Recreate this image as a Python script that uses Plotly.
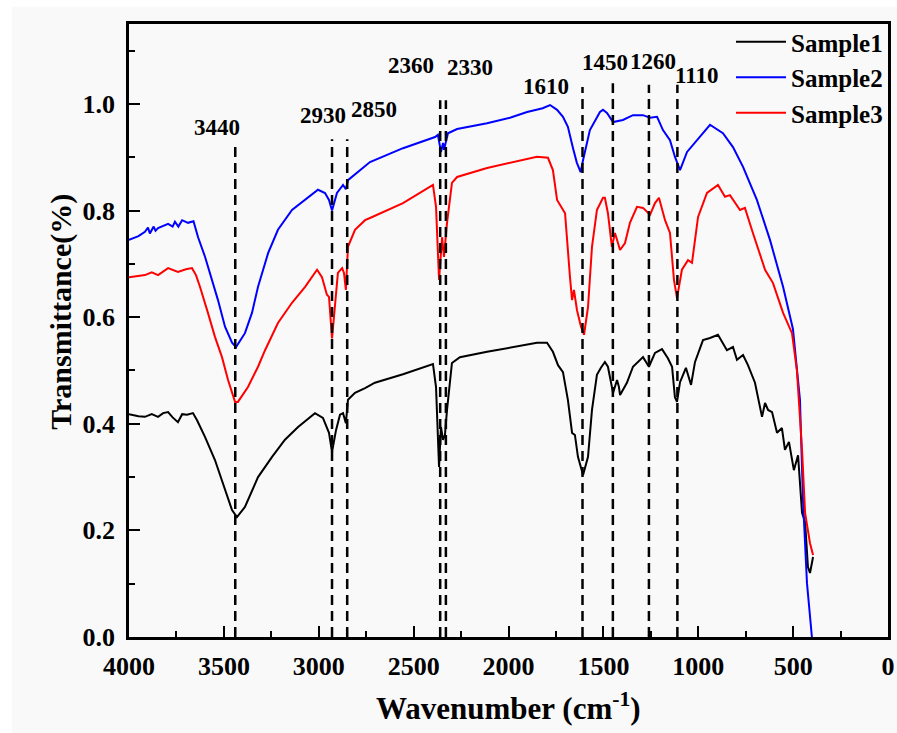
import plotly.graph_objects as go

# ---------------- data ----------------
wn_s1 = [4000, 3950, 3916, 3880, 3847, 3820, 3794, 3770, 3742, 3720, 3694, 3663, 3642, 3599, 3547,
         3494, 3457, 3431, 3389, 3320, 3246, 3178, 3109, 3020, 2978, 2946, 2930, 2909, 2888, 2872,
         2857, 2846, 2809, 2756, 2704, 2556, 2398, 2382, 2372, 2366, 2356, 2345, 2335, 2324, 2298,
         2256, 2113, 1976, 1900, 1850, 1797, 1766, 1739, 1713, 1687, 1665, 1650, 1634, 1607, 1581,
         1560, 1534, 1513, 1492, 1476, 1460, 1449, 1428, 1418, 1412, 1376, 1344, 1291, 1260, 1228,
         1191, 1160, 1138, 1123, 1112, 1096, 1065, 1038, 1017, 975, 938, 896, 849, 817, 796,
         764, 738, 701, 664, 648, 632, 611, 585, 559, 543, 522, 496, 474, 453, 437,
         422, 411, 395]
val_s1 = [0.418, 0.414, 0.413, 0.418, 0.413, 0.420, 0.422, 0.412, 0.403, 0.418, 0.417, 0.420, 0.407, 0.375, 0.332,
          0.276, 0.238, 0.225, 0.244, 0.300, 0.338, 0.370, 0.394, 0.420, 0.411, 0.383, 0.347, 0.388, 0.417, 0.420,
          0.401, 0.445, 0.458, 0.467, 0.477, 0.493, 0.512, 0.469, 0.383, 0.319, 0.394, 0.370, 0.379, 0.426, 0.514,
          0.525, 0.535, 0.544, 0.549, 0.552, 0.552, 0.535, 0.510, 0.497, 0.445, 0.383, 0.379, 0.338, 0.304, 0.338,
          0.426, 0.492, 0.505, 0.516, 0.507, 0.478, 0.458, 0.482, 0.469, 0.454, 0.477, 0.507, 0.525, 0.507, 0.533,
          0.540, 0.523, 0.507, 0.450, 0.441, 0.478, 0.505, 0.473, 0.516, 0.557, 0.561, 0.567, 0.538, 0.544, 0.520,
          0.529, 0.510, 0.477, 0.413, 0.439, 0.426, 0.422, 0.383, 0.392, 0.351, 0.366, 0.313, 0.341, 0.233, 0.216,
          0.131, 0.120, 0.150]

wn_s2 = [4000, 3950, 3916, 3900, 3890, 3870, 3860, 3847, 3794, 3770, 3758, 3740, 3720, 3689, 3660,
         3647, 3636, 3599, 3563, 3531, 3494, 3457, 3436, 3389, 3352, 3320, 3267, 3215, 3141, 3072,
         3004, 2967, 2946, 2930, 2904, 2872, 2857, 2846, 2730, 2556, 2387, 2372, 2356, 2345, 2340,
         2319, 2271, 2113, 1992, 1902, 1820, 1781, 1744, 1713, 1687, 1660, 1640, 1620, 1607, 1571,
         1534, 1518, 1502, 1481, 1449, 1397, 1344, 1291, 1254, 1217, 1186, 1149, 1123, 1096, 1059,
         1007, 938, 870, 817, 764, 691, 622, 553, 501, 464, 448, 427, 401]
val_s2 = [0.745, 0.752, 0.760, 0.768, 0.757, 0.770, 0.762, 0.767, 0.775, 0.770, 0.779, 0.770, 0.782, 0.777, 0.780,
          0.764, 0.750, 0.713, 0.670, 0.632, 0.582, 0.552, 0.544, 0.570, 0.608, 0.657, 0.720, 0.764, 0.801, 0.820,
          0.839, 0.833, 0.820, 0.800, 0.833, 0.848, 0.840, 0.857, 0.891, 0.917, 0.938, 0.942, 0.910, 0.927, 0.914,
          0.945, 0.953, 0.964, 0.974, 0.985, 0.992, 0.998, 0.989, 0.976, 0.957, 0.917, 0.890, 0.872, 0.895, 0.951,
          0.976, 0.985, 0.989, 0.983, 0.966, 0.970, 0.979, 0.979, 0.974, 0.976, 0.951, 0.932, 0.901, 0.876, 0.910,
          0.932, 0.961, 0.945, 0.919, 0.882, 0.820, 0.745, 0.657, 0.578, 0.445, 0.257, 0.101, 0.0]

wn_s3 = [4000, 3950, 3916, 3880, 3847, 3794, 3742, 3700, 3668, 3647, 3626, 3584, 3547, 3510, 3478,
         3441, 3426, 3373, 3320, 3283, 3215, 3141, 3072, 3009, 2983, 2957, 2946, 2930, 2914, 2899,
         2877, 2867, 2857, 2846, 2809, 2756, 2730, 2556, 2398, 2382, 2366, 2350, 2340, 2324, 2298,
         2271, 2113, 1976, 1850, 1792, 1766, 1744, 1729, 1702, 1676, 1665, 1655, 1639, 1618, 1602,
         1581, 1560, 1534, 1502, 1492, 1476, 1455, 1439, 1412, 1386, 1360, 1323, 1291, 1254, 1228,
         1207, 1175, 1149, 1128, 1112, 1086, 1054, 1033, 1001, 954, 896, 859, 833, 780, 754,
         712, 675, 648, 606, 553, 506, 480, 453, 437, 411, 395]
val_s3 = [0.675, 0.677, 0.679, 0.684, 0.679, 0.692, 0.685, 0.690, 0.692, 0.679, 0.657, 0.608, 0.563, 0.525, 0.482,
          0.441, 0.441, 0.469, 0.507, 0.538, 0.589, 0.627, 0.657, 0.689, 0.675, 0.642, 0.638, 0.560, 0.632, 0.683,
          0.692, 0.683, 0.651, 0.732, 0.764, 0.782, 0.786, 0.814, 0.848, 0.807, 0.670, 0.750, 0.713, 0.777, 0.852,
          0.863, 0.880, 0.891, 0.901, 0.899, 0.876, 0.820, 0.811, 0.795, 0.675, 0.632, 0.651, 0.613, 0.582, 0.567,
          0.619, 0.732, 0.801, 0.824, 0.824, 0.795, 0.732, 0.758, 0.726, 0.739, 0.777, 0.807, 0.805, 0.792, 0.814,
          0.824, 0.782, 0.758, 0.670, 0.636, 0.689, 0.707, 0.702, 0.788, 0.833, 0.848, 0.826, 0.829, 0.801, 0.805,
          0.758, 0.720, 0.689, 0.664, 0.608, 0.570, 0.500, 0.351, 0.233, 0.176, 0.154]

series_names = ["Sample1", "Sample2", "Sample3"]

# peak markers: wavenumber, label text
peak_wn = [3440, 2930, 2850, 2360, 2330, 1610, 1450, 1260, 1110]
peak_labels = ["3440", "2930", "2850", "2360", "2330", "1610", "1450", "1260", "1110"]

x_ticks = [4000, 3500, 3000, 2500, 2000, 1500, 1000, 500, 0]
y_ticks = [0.0, 0.2, 0.4, 0.6, 0.8, 1.0]

# ---------------- layout constants ----------------
peak_line_top = [0.923, 0.934, 0.934, 1.007, 1.007, 1.032, 1.039, 1.036, 1.036]
label_pos = [(3536, 0.955), (2978, 0.979), (2709, 0.989), (2514, 1.073), (2203, 1.069),
             (1802, 1.032), (1492, 1.077), (1239, 1.079), (1007, 1.053)]
colors = ["#000000", "#0000ff", "#ff0000"]
FONT = "Liberation Serif"

fig = go.Figure()
for wn, val, name, col in zip([wn_s1, wn_s2, wn_s3], [val_s1, val_s2, val_s3], series_names, colors):
    fig.add_trace(go.Scatter(x=wn, y=val, mode="lines", name=name,
                             line=dict(color=col, width=2)))

shapes = [dict(type="rect", xref="paper", yref="paper", x0=-0.154, x1=1.02, y0=-0.17, y1=1.028,
               fillcolor="#f9f9f9", line=dict(width=0), layer="below")]
for w, top in zip(peak_wn, peak_line_top):
    shapes.append(dict(type="line", xref="x", yref="y", x0=w, x1=w, y0=0, y1=top,
                       line=dict(color="black", width=2.5, dash="10px,6px"), layer="above"))

annotations = []
for (lx, ly), txt in zip(label_pos, peak_labels):
    annotations.append(dict(x=lx, y=ly, xref="x", yref="y", text=txt, showarrow=False,
                            font=dict(family=FONT, size=23, color="black", weight="bold")))
annotations.append(dict(x=0.5, y=-0.113, xref="paper", yref="paper", yanchor="middle",
                        text="Wavenumber (cm<sup>-1</sup>)", showarrow=False,
                        font=dict(family=FONT, size=31, color="black", weight="bold")))
annotations.append(dict(x=-0.115, y=0.53, xref="paper", yref="paper", textangle=-90,
                        text="Transmittance(%)", showarrow=False,
                        font=dict(family=FONT, size=30, color="black", weight="bold")))

axis_common = dict(showline=True, linecolor="black", linewidth=2.5, mirror=True,
                   ticks="inside", tickcolor="black", tickwidth=2, ticklen=11,
                   showgrid=False, zeroline=False, automargin=False,
                   tickfont=dict(family=FONT, size=26, color="black", weight="bold"))

fig.update_layout(
    width=897, height=733,
    margin=dict(l=129, r=9, t=24, b=96),
    paper_bgcolor="white", plot_bgcolor="rgba(0,0,0,0)",
    xaxis=dict(range=[4000, 0], tickvals=x_ticks, ticktext=[str(t) for t in x_ticks],
               ticklabelstandoff=4, ticklabeloverflow="allow",
               minor=dict(dtick=250, ticks="inside", ticklen=6, tickwidth=2, tickcolor="black", showgrid=False),
               **axis_common),
    yaxis=dict(range=[0, 1.15], tickvals=y_ticks, ticktext=[f"{t:.1f}" for t in y_ticks],
               ticklabelstandoff=6,
               minor=dict(dtick=0.1, ticks="inside", ticklen=6, tickwidth=2, tickcolor="black", showgrid=False),
               **axis_common),
    legend=dict(x=1.0, xanchor="right", y=1.008, yanchor="top", bgcolor="rgba(0,0,0,0)",
                font=dict(family=FONT, size=25, color="black", weight="bold"),
                itemwidth=50, tracegroupgap=0),
    shapes=shapes, annotations=annotations,
)

# place the figure at the page's top-left corner (no default body margin)
fig.write_html("out.html", config={"displayModeBar": False},
               post_script="document.body.style.margin='0';document.body.style.overflow='hidden';")
